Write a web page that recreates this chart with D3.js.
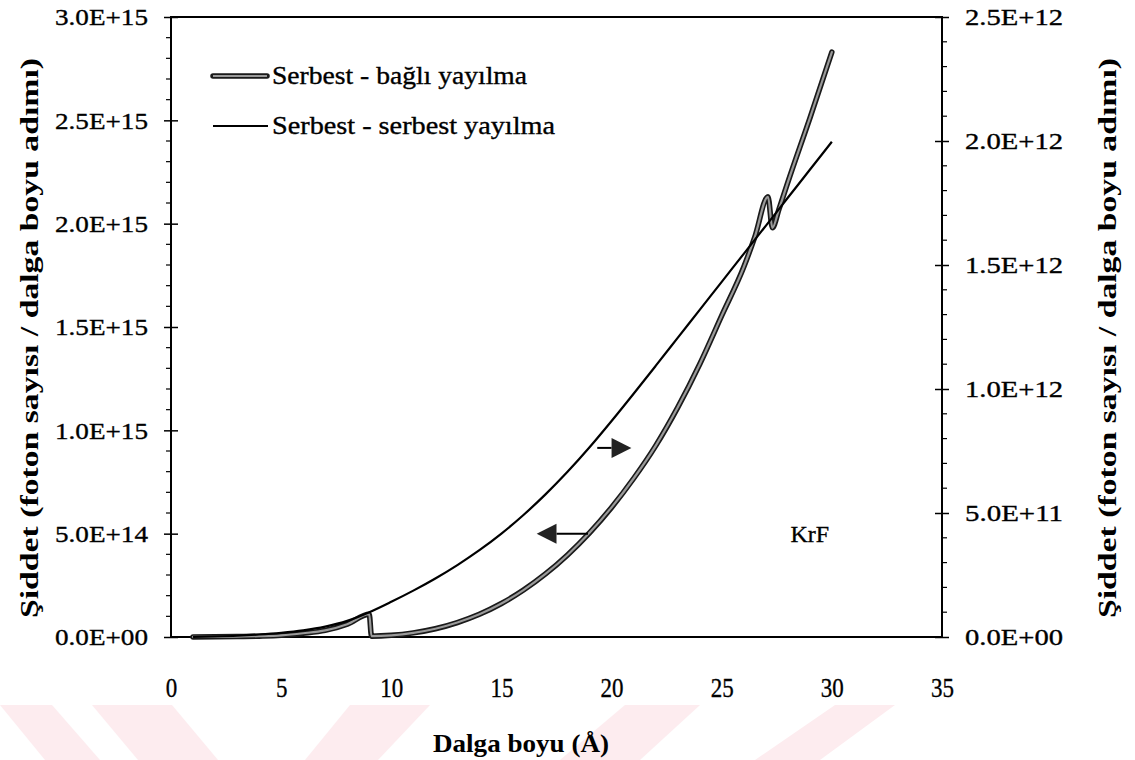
<!DOCTYPE html>
<html><head><meta charset="utf-8">
<script src="https://cdn.jsdelivr.net/npm/d3@7"></script>
<style>
body{margin:0;background:#fff}
text{font-family:"Liberation Serif","Times New Roman",serif;fill:#000}
</style>
</head><body>
<svg id="c" width="1135" height="760"></svg>
<script>
// ---- data ----
const ffX = [1,2,3,4,5,6,7,8,9,10,11,12,13,14,15,16,17,18,19,20,21,22,23,24,25,26,27,28,29,30];
const freeFree = [0,0.02e11,0.05e11,0.1e11,0.17e11,0.27e11,0.42e11,0.65e11,1.0e11,1.42e11,1.87e11,2.36e11,2.90e11,3.50e11,4.17e11,4.92e11,5.75e11,6.66e11,7.65e11,8.71e11,9.81e11,10.93e11,12.06e11,13.19e11,14.32e11,15.45e11,16.58e11,17.71e11,18.84e11,19.97e11];
const bfX = [1,2,3,4,5,6,7,8,9,9.1,10,11,12,13,14,15,16,17,18,19,20,21,22,23,24,25,26,26.5,27.1,27.3,27.6,28,29,30];
const boundFree = [0.0005e15,0.001e15,0.002e15,0.004e15,0.008e15,0.018e15,0.032e15,0.062e15,0.11e15,0.004e15,0.008e15,0.02e15,0.04e15,0.07e15,0.11e15,0.162e15,0.227e15,0.305e15,0.397e15,0.504e15,0.627e15,0.767e15,0.925e15,1.11e15,1.32e15,1.555e15,1.79e15,1.935e15,2.13e15,1.98e15,2.07e15,2.2e15,2.51e15,2.83e15];
const xTicks = [0,5,10,15,20,25,30,35];
const leftTicks = [0,5e14,1e15,1.5e15,2e15,2.5e15,3e15];
const leftTickLabels = ["0.0E+00","5.0E+14","1.0E+15","1.5E+15","2.0E+15","2.5E+15","3.0E+15"];
const rightTicks = [0,5e11,1e12,1.5e12,2e12,2.5e12];
const rightTickLabels = ["0.0E+00","5.0E+11","1.0E+12","1.5E+12","2.0E+12","2.5E+12"];
const legendLabels = ["Serbest - bağlı yayılma","Serbest - serbest yayılma"];
const xTitle = "Dalga boyu (Å)";
const yTitle = "Şiddet (foton sayısı / dalga boyu adımı)";
const noteLabel = "KrF";

// ---- layout ----
const svg = d3.select("#c");
const L = 171, R = 942, T = 17, B = 637;
const x = d3.scaleLinear().domain([0,35]).range([L,R]);
const yL = d3.scaleLinear().domain([0,3e15]).range([B,T]);
const yR = d3.scaleLinear().domain([0,2.5e12]).range([B,T]);

// watermark (decorative pink bands at bottom)
const watermark = [
  [[0,705],[52,705],[100,760],[45,760]],
  [[92,705],[172,705],[218,760],[138,760]],
  [[350,705],[430,705],[378,760],[305,760]],
  [[625,705],[700,705],[640,760],[560,760]],
  [[835,705],[895,705],[820,760],[755,760]]
];
svg.append("g").selectAll("polygon").data(watermark).join("polygon")
  .attr("points", d => d.map(p => p.join(",")).join(" "))
  .attr("fill", "#fdecef");

// frame
svg.append("rect").attr("x",L).attr("y",T).attr("width",R-L).attr("height",B-T)
  .attr("fill","none").attr("stroke","#000").attr("stroke-width",2);

const ink = sel => sel.attr("stroke","#000").attr("stroke-width",0.35);

// left axis
const axL = svg.append("g").attr("transform",`translate(${L},0)`)
  .call(d3.axisLeft(yL).tickValues(leftTicks).tickFormat((d,i)=>leftTickLabels[i]).tickSize(7).tickPadding(16));
axL.select(".domain").remove();
axL.selectAll(".tick line").attr("x2",-7).attr("x1",7).attr("stroke-width",1.5);
axL.selectAll(".tick text").style("font-size","24px").attr("font-family",null)
  .attr("textLength",93).attr("lengthAdjust","spacingAndGlyphs").call(ink);
const minorL = d3.range(1,30).filter(i=>i%5!==0).map(i=>i*1e14);
svg.append("g").selectAll("line").data(minorL).join("line")
  .attr("x1",L-5).attr("x2",L).attr("y1",d=>yL(d)).attr("y2",d=>yL(d)).attr("stroke","#000").attr("stroke-width",1.2);

// right axis
const axR = svg.append("g").attr("transform",`translate(${R},0)`)
  .call(d3.axisRight(yR).tickValues(rightTicks).tickFormat((d,i)=>rightTickLabels[i]).tickSize(7).tickPadding(16));
axR.select(".domain").remove();
axR.selectAll(".tick line").attr("x1",-7).attr("x2",7).attr("stroke-width",1.5);
axR.selectAll(".tick text").style("font-size","24px").attr("font-family",null)
  .attr("textLength",98).attr("lengthAdjust","spacingAndGlyphs").call(ink);
const minorR = d3.range(1,25).filter(i=>i%5!==0).map(i=>i*1e11);
svg.append("g").selectAll("line").data(minorR).join("line")
  .attr("x1",R).attr("x2",R+5).attr("y1",d=>yR(d)).attr("y2",d=>yR(d)).attr("stroke","#000").attr("stroke-width",1.2);

// bottom axis labels
const axB = svg.append("g").attr("transform",`translate(0,${B})`)
  .call(d3.axisBottom(x).tickValues(xTicks).tickSize(0).tickPadding(41));
axB.select(".domain").remove();
axB.selectAll(".tick text").style("font-size","27px").attr("font-family",null)
  .attr("textLength", d => String(d).length*11.5).attr("lengthAdjust","spacingAndGlyphs").call(ink);

// lines
const lineFF = d3.line().x((d,i)=>x(ffX[i])).y(d=>yR(d)).curve(d3.curveMonotoneX);
const lineBF = d3.line().x((d,i)=>x(bfX[i])).y(d=>yL(d)).curve(d3.curveMonotoneX);

svg.append("path").datum(boundFree).attr("d",lineBF).attr("fill","none")
  .attr("stroke","#1a1a1a").attr("stroke-width",5.5).attr("stroke-linejoin","round").attr("stroke-linecap","round");
svg.append("path").datum(boundFree).attr("d",lineBF).attr("fill","none")
  .attr("stroke","#9a9a9a").attr("stroke-width",2.2).attr("stroke-linejoin","round").attr("stroke-linecap","round");
svg.append("path").datum(freeFree).attr("d",lineFF).attr("fill","none")
  .attr("stroke","#000").attr("stroke-width",2.2);

// arrows (annotations)
function arrow(xs, xe, yv, dir){
  const y0 = yL(yv);
  const xa = x(xs), xb = x(xe);
  svg.append("line").attr("x1",xa).attr("x2",xb).attr("y1",y0).attr("y2",y0).attr("stroke","#000").attr("stroke-width",2);
  const tip = x(xe + dir*0.9);
  svg.append("polygon").attr("points",`${xb},${y0-10} ${xb},${y0+10} ${tip},${y0}`).attr("fill","#222");
}
arrow(19.35, 20.0, 0.915e15, 1);
arrow(18.93, 17.5, 0.50e15, -1);

// KrF label
svg.append("text").attr("x",x(29.0)).attr("y",yL(0.5e15)).attr("dy","0.35em").attr("text-anchor","middle")
  .style("font-size","24px").call(ink).text(noteLabel);

// legend
const lg = svg.append("g");
const ly = [76,126];
lg.append("line").attr("x1",213).attr("x2",267).attr("y1",ly[0]).attr("y2",ly[0]).attr("stroke","#1a1a1a").attr("stroke-width",5.5).attr("stroke-linecap","round");
lg.append("line").attr("x1",213).attr("x2",267).attr("y1",ly[0]).attr("y2",ly[0]).attr("stroke","#9a9a9a").attr("stroke-width",2.2);
lg.append("line").attr("x1",213).attr("x2",268).attr("y1",ly[1]).attr("y2",ly[1]).attr("stroke","#000").attr("stroke-width",2);
lg.selectAll("text").data(legendLabels).join("text")
  .attr("x",272).attr("y",(d,i)=>ly[i]).attr("dy","0.33em")
  .style("font-size","25px").call(ink)
  .attr("textLength",(d,i)=>[255,283][i]).attr("lengthAdjust","spacingAndGlyphs")
  .text(d=>d);

// axis titles
svg.append("text").attr("x",521).attr("y",743).attr("dy","0.35em").attr("text-anchor","middle")
  .style("font-size","25px").style("font-weight","bold")
  .attr("textLength",176).attr("lengthAdjust","spacingAndGlyphs").text(xTitle);
svg.append("text").attr("transform","translate(29,338) rotate(-90)").attr("dy","0.35em").attr("text-anchor","middle")
  .style("font-size","26px").style("font-weight","bold")
  .attr("textLength",560).attr("lengthAdjust","spacingAndGlyphs").text(yTitle);
svg.append("text").attr("transform","translate(1107,338) rotate(-90)").attr("dy","0.35em").attr("text-anchor","middle")
  .style("font-size","26px").style("font-weight","bold")
  .attr("textLength",560).attr("lengthAdjust","spacingAndGlyphs").text(yTitle);
</script>
</body></html>
